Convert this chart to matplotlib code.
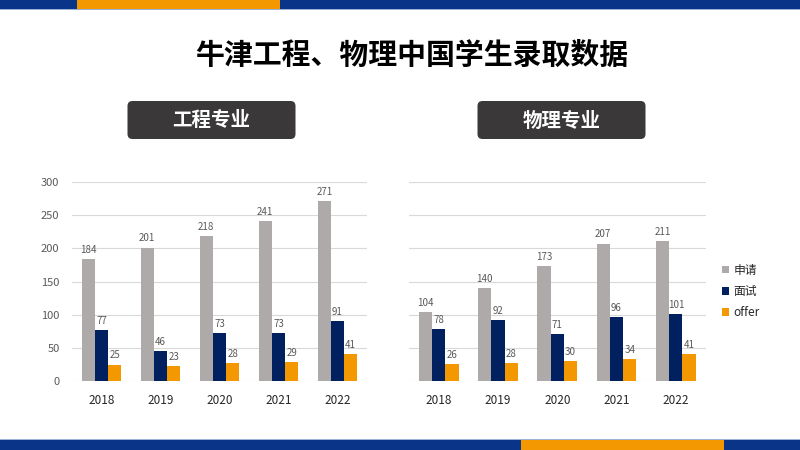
import matplotlib
matplotlib.use("Agg")
import matplotlib.pyplot as plt
from matplotlib.patches import Rectangle, FancyBboxPatch
import numpy as np

plt.rcParams['font.family'] = ['Noto Sans CJK SC', 'DejaVu Sans']

# data
years = ['2018', '2019', '2020', '2021', '2022']
series_names = ['申请', '面试', 'offer']
eng_apply = [184, 201, 218, 241, 271]
eng_interview = [77, 46, 73, 73, 91]
eng_offer = [25, 23, 28, 29, 41]
phy_apply = [104, 140, 173, 207, 211]
phy_interview = [78, 92, 71, 96, 101]
phy_offer = [26, 28, 30, 34, 41]
y_ticks = [0, 50, 100, 150, 200, 250, 300]

colors = ['#AEAAAA', '#002060', '#F39800']
BLUE = '#0A3487'
ORANGE = '#F39800'

fig = plt.figure(figsize=(8, 4.5), dpi=100)

# overlay in pixel coordinates for decoration
deco = fig.add_axes([0, 0, 1, 1], zorder=0)
deco.set_xlim(0, 800)
deco.set_ylim(450, 0)
deco.axis('off')

# top band
deco.add_patch(Rectangle((0, 0), 800, 9, color=BLUE, lw=0))
deco.add_patch(Rectangle((77, 0), 203, 9, color=ORANGE, lw=0))
deco.add_patch(Rectangle((0, 9), 800, 1, color='#9db0d8', lw=0))
# bottom band
deco.add_patch(Rectangle((0, 440), 800, 10, color=BLUE, lw=0))
deco.add_patch(Rectangle((521, 440), 203, 10, color=ORANGE, lw=0))
deco.add_patch(Rectangle((0, 439), 800, 1, color='#9db0d8', lw=0))

deco.text(412, 55, '牛津工程、物理中国学生录取数据', ha='center', va='center',
          fontsize=20.8, fontweight='bold', color='black')

for cx, label in [(211.5, '工程专业'), (561.5, '物理专业')]:
    deco.add_patch(FancyBboxPatch((cx - 79, 106), 158, 28,
                                  boxstyle='round,pad=5', fc='#3A3838', ec='none'))
    deco.text(cx, 121, label, ha='center', va='center', fontsize=14,
              fontweight='bold', color='white')


def draw_chart(ax, values, show_y):
    x = np.arange(len(years))
    w = 0.224
    for i, vals in enumerate(values):
        bars = ax.bar(x + (i - 1) * w, vals, w, color=colors[i],
                      label=series_names[i], zorder=3)
        ax.bar_label(bars, padding=3, fontsize=7, color='#595959')
    ax.set_xlim(-0.5, len(years) - 0.5)
    ax.set_ylim(0, 300)
    ax.set_yticks(y_ticks)
    ax.set_xticks(x)
    ax.set_xticklabels(years)
    ax.grid(axis='y', color='#D9D9D9', linewidth=0.8, zorder=0)
    for s in ax.spines.values():
        s.set_visible(False)
    ax.tick_params(axis='x', length=0, pad=9, labelsize=8.5, labelcolor='#262626')
    ax.tick_params(axis='y', length=0, pad=9, labelsize=8, labelcolor='#595959')
    if not show_y:
        ax.tick_params(axis='y', labelleft=False)


ax1 = fig.add_axes([72 / 800, (450 - 381.3) / 450, 295 / 800, 199.6 / 450])
draw_chart(ax1, [eng_apply, eng_interview, eng_offer], True)

ax2 = fig.add_axes([409 / 800, (450 - 381.3) / 450, 296.5 / 800, 199.6 / 450])
draw_chart(ax2, [phy_apply, phy_interview, phy_offer], False)

handles, labels = ax2.get_legend_handles_labels()
fig.legend(handles, labels, loc='center left', bbox_to_anchor=(716 / 800, 1 - 291.5 / 450),
           frameon=False, fontsize=8.5, handlelength=0.6, handleheight=0.6,
           handletextpad=0.4, labelspacing=0.7, borderpad=0, labelcolor='#262626')

fig.savefig('out.png', dpi=100)
